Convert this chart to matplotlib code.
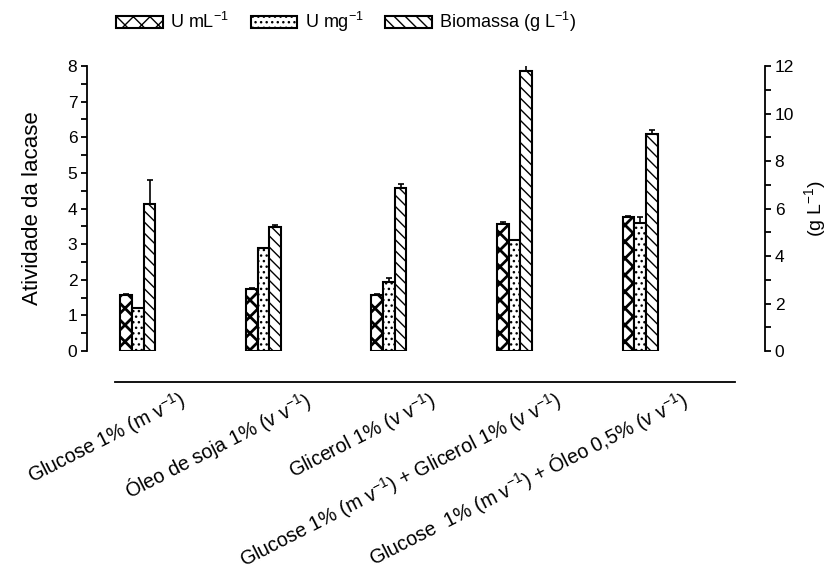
import numpy as np
import matplotlib.pyplot as plt
from matplotlib.transforms import ScaledTranslation

# meios de cultivo testados
meios = [
    "Glucose 1% (m v$^{-1}$)",
    "Óleo de soja 1% (v v$^{-1}$)",
    "Glicerol 1% (v v$^{-1}$)",
    "Glucose 1% (m v$^{-1}$) + Glicerol 1% (v v$^{-1}$)",
    "Glucose  1% (m v$^{-1}$) + Óleo 0,5% (v v$^{-1}$)",
]

# atividade da lacase (eixo esquerdo)
u_ml = [1.56, 1.74, 1.57, 3.57, 3.75]
u_ml_err = [0.04, 0.04, 0.04, 0.04, 0.04]
u_mg = [1.20, 2.89, 1.93, 3.13, 3.60]
u_mg_err = [0.0, 0.0, 0.12, 0.0, 0.15]

# biomassa em g/L (eixo direito)
biomassa = [6.20, 5.22, 6.87, 11.78, 9.15]
biomassa_err = [1.0, 0.07, 0.18, 0.25, 0.15]

plt.rcParams['font.family'] = ['Liberation Sans', 'DejaVu Sans']
plt.rcParams['mathtext.fontset'] = 'custom'
plt.rcParams['mathtext.rm'] = 'Liberation Sans'
plt.rcParams['mathtext.it'] = 'Liberation Sans:italic'
plt.rcParams['hatch.color'] = 'black'

fig = plt.figure(figsize=(8.35, 5.76), dpi=100)
ax = fig.add_axes([0.1042, 0.3906, 0.812, 0.4948])
ax2 = ax.twinx()

x = np.arange(len(meios))
w = 0.093
err_kw = dict(ecolor='black', elinewidth=1.2, capsize=2.5, capthick=1.2)
zeros = np.zeros(len(meios))

# barras de erro apenas para cima
with plt.rc_context({'hatch.linewidth': 2.0}):
    b1 = ax.bar(x - w, u_ml, w, yerr=[zeros, u_ml_err], color='white', edgecolor='black',
                linewidth=1.5, hatch='xx', error_kw=err_kw, label='U mL$^{-1}$')
with plt.rc_context({'hatch.linewidth': 1.0}):
    b2 = ax.bar(x, u_mg, w, yerr=[zeros, u_mg_err], color='white', edgecolor='black',
                linewidth=1.5, hatch='...', error_kw=err_kw, label='U mg$^{-1}$')
    b3 = ax2.bar(x + w, biomassa, w, yerr=[zeros, biomassa_err], color='white',
                 edgecolor='black', linewidth=1.5, hatch='\\\\\\', error_kw=err_kw,
                 label='Biomassa (g L$^{-1}$)')

ax.set_xlim(-0.406, 4.996)
ax.set_ylim(0, 8)
ax2.set_ylim(0, 12)

ax.set_yticks(np.arange(0, 9, 1))
ax.set_yticks(np.arange(0.5, 8, 1), minor=True)
ax2.set_yticks(np.arange(0, 13, 2))
ax2.set_yticks(np.arange(1, 12, 2), minor=True)

for a in (ax, ax2):
    a.spines['top'].set_visible(False)
    a.tick_params(axis='y', which='both', direction='out', length=4, width=1.3,
                  labelsize=12.5, pad=3)
ax.spines['right'].set_visible(False)
ax2.spines['left'].set_visible(False)
ax2.spines['bottom'].set_visible(False)
ax.spines['left'].set_linewidth(1.3)
ax2.spines['right'].set_linewidth(1.3)

# linha de base deslocada abaixo das barras
ax.spines['bottom'].set_position(('outward', 22.3))
ax.spines['bottom'].set_bounds(-0.183, 4.757)
ax.spines['bottom'].set_linewidth(1.3)

ax.set_xticks(x)
ax.set_xticklabels(meios, rotation=27, ha='right', va='center',
                   rotation_mode='anchor', fontsize=14.2)
ax.tick_params(axis='x', length=0, pad=12)
offset = ScaledTranslation(0.46, 0, fig.dpi_scale_trans)
for lbl in ax.get_xticklabels():
    lbl.set_transform(lbl.get_transform() + offset)

ax.set_ylabel('Atividade da lacase', fontsize=16, labelpad=18)
ax2.set_ylabel('(g L$^{-1}$)', fontsize=14, labelpad=6)

fig.legend(handles=[b1, b2, b3], loc='upper left', bbox_to_anchor=(0.13, 0.995),
           ncol=3, frameon=False, fontsize=13, handlelength=2.6, handleheight=0.6,
           columnspacing=1.2, handletextpad=0.4, borderaxespad=0)

fig.savefig('out.png', dpi=100)
